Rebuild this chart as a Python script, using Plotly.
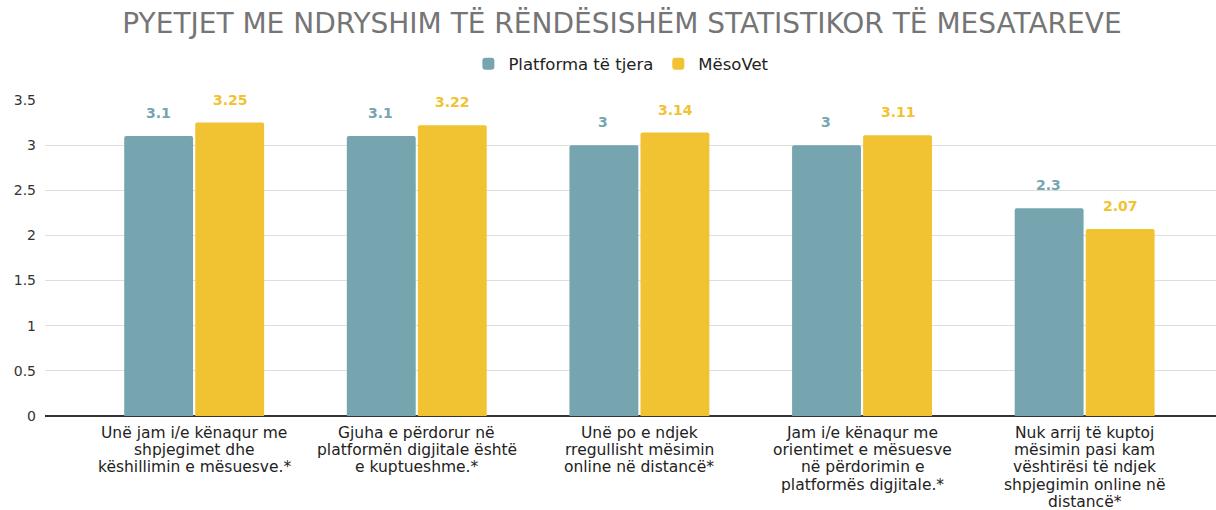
import plotly.graph_objects as go

categories = [
    "Unë jam i/e kënaqur me<br>shpjegimet dhe<br>këshillimin e mësuesve.*",
    "Gjuha e përdorur në<br>platformën digjitale është<br>e kuptueshme.*",
    "Unë po e ndjek<br>rregullisht mësimin<br>online në distancë*",
    "Jam i/e kënaqur me<br>orientimet e mësuesve<br>në përdorimin e<br>platformës digjitale.*",
    "Nuk arrij të kuptoj<br>mësimin pasi kam<br>vështirësi të ndjek<br>shpjegimin online në<br>distancë*",
]
series_names = ["Platforma të tjera", "MësoVet"]
platforma = [3.1, 3.1, 3.0, 3.0, 2.3]
mesovet = [3.25, 3.22, 3.14, 3.11, 2.07]
platforma_labels = ["3.1", "3.1", "3", "3", "2.3"]
mesovet_labels = ["3.25", "3.22", "3.14", "3.11", "2.07"]
y_ticks = [0, 0.5, 1, 1.5, 2, 2.5, 3, 3.5]
y_tick_text = ["0", "0.5", "1", "1.5", "2", "2.5", "3", "3.5"]

BLUE = "#76a5af"
YELLOW = "#f1c232"
FONT = "DejaVu Sans"

fig = go.Figure()
fig.add_trace(go.Bar(x=categories, y=platforma, name=series_names[0],
                     marker=dict(color=BLUE, line=dict(width=0))))
fig.add_trace(go.Bar(x=categories, y=mesovet, name=series_names[1],
                     marker=dict(color=YELLOW, line=dict(width=0))))

annotations = []
for c, v, t in zip(categories, platforma, platforma_labels):
    annotations.append(dict(x=c, y=v, text=t, showarrow=False, xshift=-36, yshift=23,
                            yanchor="middle", xanchor="center",
                            font=dict(family=FONT, size=14, color=BLUE, weight="bold")))
for c, v, t in zip(categories, mesovet, mesovet_labels):
    annotations.append(dict(x=c, y=v, text=t, showarrow=False, xshift=36, yshift=23,
                            yanchor="middle", xanchor="center",
                            font=dict(family=FONT, size=14, color=YELLOW, weight="bold")))

# category labels, one annotation per line for tighter line spacing
for c in categories:
    for i, line in enumerate(c.split("<br>")):
        annotations.append(dict(x=c, y=0, text=line, showarrow=False,
                                yshift=-(17 + 17.2 * i), yanchor="middle", xanchor="center",
                                font=dict(family=FONT, size=15.5, color="#222222")))

fig.update_layout(
    width=1216, height=510,
    margin=dict(l=45, r=0, t=100, b=94, autoexpand=False),
    paper_bgcolor="white", plot_bgcolor="white",
    font=dict(family=FONT, color="#222222"),
    title=dict(text="PYETJET ME NDRYSHIM TË RËNDËSISHËM STATISTIKOR TË MESATAREVE",
               x=0.5115, xanchor="center", xref="container",
               y=1 - 23 / 510, yanchor="middle", yref="container",
               font=dict(family=FONT, size=28, color="#757575")),
    legend=dict(orientation="h", x=0.511, xanchor="center", xref="container",
                y=1 - 64 / 510, yanchor="middle", yref="container",
                font=dict(family=FONT, size=16.5, color="#222222"),
                itemwidth=30, traceorder="normal"),
    barmode="group", bargap=0.362, bargroupgap=0.03,
    barcornerradius=2,
    annotations=annotations,
    xaxis=dict(type="category", range=[-0.67, 4.59], showgrid=False,
               showline=False, zeroline=False, ticks="", automargin=False,
               showticklabels=False, fixedrange=True),
    yaxis=dict(range=[0, 3.5], tickvals=y_ticks, ticktext=y_tick_text,
               showgrid=True, gridcolor="#dedede", gridwidth=1,
               zeroline=True, zerolinecolor="#333333", zerolinewidth=1.5,
               showline=False, ticks="", ticklabelstandoff=8, automargin=False,
               tickfont=dict(family=FONT, size=14, color="#333333"),
               fixedrange=True),
)

fig.write_html("out.html", config={"displayModeBar": False},
               post_script="document.body.style.margin='0';document.body.style.overflow='hidden';")
